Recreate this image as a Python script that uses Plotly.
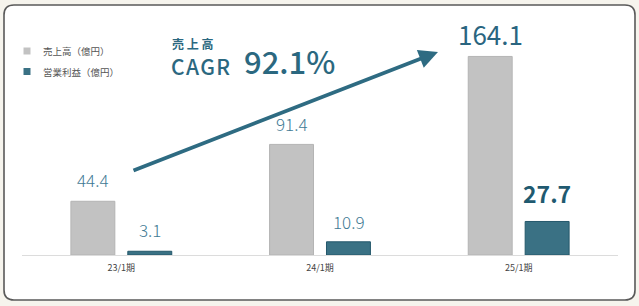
import plotly.graph_objects as go

# ---- data ----
categories = ["23/1期", "24/1期", "25/1期"]
sales = [44.4, 91.4, 164.1]          # 売上高（億円）
op_profit = [3.1, 10.9, 27.7]        # 営業利益（億円）
sales_name = "売上高（億円）"
profit_name = "営業利益（億円）"
cagr_title = "売上高"
cagr_label = "CAGR"
cagr_value = "92.1%"

# ---- geometry ----
W, H = 639, 306
ML, MR, MT, MB = 22, 21, 20, 51
PW, PH = W - ML - MR, H - MT - MB
PX_PER_UNIT = 1.21
YMAX = PH / PX_PER_UNIT

def px(x):
    return (x - ML) / PW

def py(y):
    return (H - MB - y) / PH

FONT = "Noto Sans CJK JP"
GRAY = "#c2c2c2"
TEAL = "#3a7184"
TEAL_DARK = "#2b6880"

fig = go.Figure()
fig.add_trace(go.Bar(x=categories, y=sales, name=sales_name,
                     marker=dict(color=GRAY, line=dict(color="#b4b4b4", width=1)),
                     showlegend=False, hoverinfo="skip"))
fig.add_trace(go.Bar(x=categories, y=op_profit, name=profit_name,
                     marker=dict(color=TEAL, line=dict(color="#24586b", width=1)),
                     showlegend=False, hoverinfo="skip"))

annotations = []
shapes = []

# card
x0, x1, y0, y1, r = 4, 635, 5, 300, 10
def P(x, y):
    return f"{px(x):.5f},{py(y):.5f}"
card_path = (f"M{P(x0 + r, y0)} L{P(x1 - r, y0)} Q{P(x1, y0)} {P(x1, y0 + r)} "
             f"L{P(x1, y1 - r)} Q{P(x1, y1)} {P(x1 - r, y1)} L{P(x0 + r, y1)} "
             f"Q{P(x0, y1)} {P(x0, y1 - r)} L{P(x0, y0 + r)} Q{P(x0, y0)} {P(x0 + r, y0)} Z")
shapes.append(dict(type="path", xref="paper", yref="paper", path=card_path,
                   fillcolor="white", line=dict(color="#5a5a5a", width=1.6), layer="below"))

# bar value labels
label_styles = {
    "sales": [dict(size=17, color="#3f7a94", weight=300, shift=7),
              dict(size=17, color="#3f7a94", weight=300, shift=6),
              dict(size=26, color="#2a6580", weight=400, shift=2)],
    "profit": [dict(size=17, color="#3f7a94", weight=300, shift=7),
               dict(size=17, color="#3f7a94", weight=300, shift=6),
               dict(size=23, color="#1f5a70", weight=700, shift=9)],
}
for key, vals, xs in (("sales", sales, -28.5), ("profit", op_profit, 28.5)):
    for i, (c, v) in enumerate(zip(categories, vals)):
        st = label_styles[key][i]
        annotations.append(dict(x=c, y=v, xref="x", yref="y", text=f"{v:.1f}",
                                showarrow=False, xshift=xs, yanchor="bottom",
                                yshift=st["shift"],
                                font=dict(family=FONT, size=st["size"], color=st["color"],
                                          weight=st["weight"])))

# legend (manual)
for (cy, col, name) in ((51, GRAY, sales_name), (71.5, TEAL, profit_name)):
    shapes.append(dict(type="rect", xref="paper", yref="paper",
                       x0=px(23.5), x1=px(30.5), y0=py(cy + 3.5), y1=py(cy - 3.5),
                       fillcolor=col, line=dict(width=0)))
    annotations.append(dict(x=px(41), y=py(cy), xref="paper", yref="paper", text=name,
                            showarrow=False, xanchor="left", yanchor="middle",
                            font=dict(family=FONT, size=9.5, color="#555555")))

# CAGR text
annotations.append(dict(x=px(170), y=py(43), xref="paper", yref="paper",
                        text=" ".join(cagr_title), showarrow=False,
                        xanchor="left", yanchor="middle",
                        font=dict(family=FONT, size=12, color=TEAL_DARK, weight=700)))
annotations.append(dict(x=px(169), y=py(65.5), xref="paper", yref="paper",
                        text="\u200a".join(cagr_label), showarrow=False,
                        xanchor="left", yanchor="middle",
                        font=dict(family=FONT, size=21, color=TEAL_DARK, weight=500)))
annotations.append(dict(x=px(242), y=py(60), xref="paper", yref="paper",
                        text=cagr_value, showarrow=False,
                        xanchor="left", yanchor="middle",
                        font=dict(family=FONT, size=31, color=TEAL_DARK, weight=500)))

# arrow
annotations.append(dict(x=px(438), y=py(52), xref="paper", yref="paper",
                        ax=132 - 438, ay=171 - 52, axref="pixel", ayref="pixel",
                        text="", showarrow=True, arrowhead=2, arrowsize=1,
                        arrowwidth=3.8, arrowcolor="#2e6b82"))

fig.update_layout(
    width=W, height=H,
    margin=dict(l=ML, r=MR, t=MT, b=MB, pad=0),
    paper_bgcolor="#f6f4ed",
    plot_bgcolor="rgba(0,0,0,0)",
    barmode="group", bargap=0.427, bargroupgap=0.228,
    xaxis=dict(showline=True, linecolor="#dcdcdc", linewidth=1.2, ticks="",
               showgrid=False, zeroline=False, fixedrange=True, ticklabelstandoff=4,
               tickfont=dict(family=FONT, size=9, color="#444444")),
    yaxis=dict(range=[0, YMAX], visible=False, showgrid=False, zeroline=False,
               fixedrange=True),
    shapes=shapes,
    annotations=annotations,
    showlegend=False,
)

fig.write_html("out.html", config={"displayModeBar": False})
